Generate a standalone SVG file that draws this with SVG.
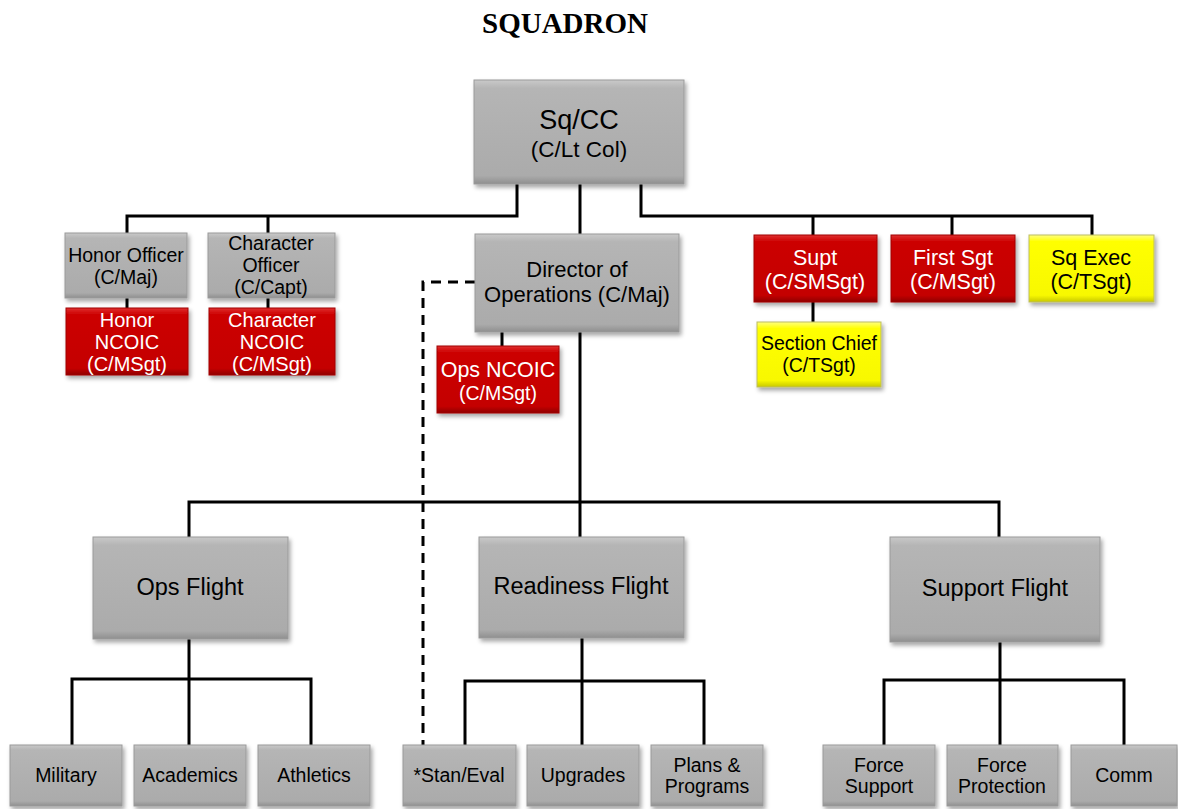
<svg xmlns="http://www.w3.org/2000/svg" width="1178" height="809" viewBox="0 0 1178 809">
<defs>
<linearGradient id="gGray" x1="0" y1="0" x2="0" y2="1">
<stop offset="0" stop-color="#c9c9c9"/><stop offset="0.08" stop-color="#b5b5b5"/><stop offset="0.92" stop-color="#ababab"/><stop offset="1" stop-color="#8f8f8f"/>
</linearGradient>
<linearGradient id="gRed" x1="0" y1="0" x2="0" y2="1">
<stop offset="0" stop-color="#e03030"/><stop offset="0.1" stop-color="#cc0000"/><stop offset="0.9" stop-color="#c40000"/><stop offset="1" stop-color="#8f0000"/>
</linearGradient>
<linearGradient id="gYel" x1="0" y1="0" x2="0" y2="1">
<stop offset="0" stop-color="#ffff80"/><stop offset="0.1" stop-color="#ffff00"/><stop offset="0.9" stop-color="#f8f800"/><stop offset="1" stop-color="#c8c800"/>
</linearGradient>
<filter id="sh" x="-10%" y="-10%" width="125%" height="130%">
<feDropShadow dx="2" dy="3" stdDeviation="2" flood-color="#000" flood-opacity="0.35"/>
</filter>
</defs>
<style>
.gray{fill:url(#gGray);stroke:#9a9a9a;stroke-width:1;filter:url(#sh)}
.red{fill:url(#gRed);stroke:#a00000;stroke-width:1;filter:url(#sh)}
.yel{fill:url(#gYel);stroke:#bdbd60;stroke-width:1;filter:url(#sh)}
text{font-family:"Liberation Sans",Arial,sans-serif;text-anchor:middle}
.tb{fill:#000}
.tw{fill:#fff}
.title{font-family:"Liberation Serif","Times New Roman",serif;font-weight:bold;font-size:29px;fill:#000}
.ln{stroke:#000;stroke-width:3;fill:none}
.dash{stroke:#000;stroke-width:3;fill:none;stroke-dasharray:10 7}
</style>
<rect width="1178" height="809" fill="#fff"/>
<text class="title" x="565" y="33">SQUADRON</text>

<g id="connectors">
<polyline class="ln" points="517,184 517,216 127,216 127,233"/>
<line class="ln" x1="268" y1="216" x2="268" y2="233"/>
<line class="ln" x1="127" y1="298" x2="127" y2="308"/>
<line class="ln" x1="268" y1="298" x2="268" y2="308"/>
<line class="ln" x1="580" y1="184" x2="580" y2="234"/>
<polyline class="ln" points="641,184 641,216 1092,216 1092,235"/>
<line class="ln" x1="813" y1="216" x2="813" y2="235"/>
<line class="ln" x1="952" y1="216" x2="952" y2="235"/>
<line class="ln" x1="813" y1="302" x2="813" y2="322"/>
<line class="ln" x1="502" y1="332" x2="502" y2="346"/>
<polyline class="dash" points="475,282 423,282 423,745"/>
<line class="ln" x1="580" y1="332" x2="580" y2="537"/>
<polyline class="ln" points="189,537 189,502 999,502 999,537"/>
<line class="ln" x1="189" y1="639" x2="189" y2="745"/>
<polyline class="ln" points="72,745 72,679 311,679 311,745"/>
<line class="ln" x1="582" y1="638" x2="582" y2="745"/>
<polyline class="ln" points="465,745 465,681 704,681 704,745"/>
<line class="ln" x1="1000" y1="642" x2="1000" y2="745"/>
<polyline class="ln" points="884,745 884,680 1124,680 1124,745"/>
</g>

<g id="sqcc"><rect class="gray" x="474" y="80" width="210" height="104"/>
<text class="tb" x="579" y="129" font-size="27">Sq/CC</text>
<text class="tb" x="579" y="157" font-size="22.5">(C/Lt Col)</text></g>

<g id="honor-officer"><rect class="gray" x="65" y="233" width="122" height="65"/>
<text class="tb" x="126" y="262" font-size="19.5">Honor Officer</text>
<text class="tb" x="126" y="284" font-size="19.5">(C/Maj)</text></g>

<g id="character-officer"><rect class="gray" x="208" y="233" width="127" height="65"/>
<text class="tb" x="271" y="250" font-size="19.5">Character</text>
<text class="tb" x="271" y="272" font-size="19.5">Officer</text>
<text class="tb" x="271" y="294" font-size="19.5">(C/Capt)</text></g>

<g id="honor-ncoic"><rect class="red" x="66" y="308" width="122" height="67"/>
<text class="tw" x="127" y="327" font-size="20">Honor</text>
<text class="tw" x="127" y="349" font-size="20">NCOIC</text>
<text class="tw" x="127" y="371" font-size="20">(C/MSgt)</text></g>

<g id="character-ncoic"><rect class="red" x="209" y="308" width="126" height="67"/>
<text class="tw" x="272" y="327" font-size="20">Character</text>
<text class="tw" x="272" y="349" font-size="20">NCOIC</text>
<text class="tw" x="272" y="371" font-size="20">(C/MSgt)</text></g>

<g id="director"><rect class="gray" x="475" y="234" width="204" height="98"/>
<text class="tb" x="577" y="277" font-size="22">Director of</text>
<text class="tb" x="577" y="302" font-size="22">Operations (C/Maj)</text></g>

<g id="ops-ncoic"><rect class="red" x="437" y="346" width="122" height="67"/>
<text class="tw" x="498" y="377" font-size="21.5">Ops NCOIC</text>
<text class="tw" x="498" y="400" font-size="19.5">(C/MSgt)</text></g>

<g id="supt"><rect class="red" x="754" y="235" width="123" height="67"/>
<text class="tw" x="815" y="265" font-size="21.5">Supt</text>
<text class="tw" x="815" y="289" font-size="21.5">(C/SMSgt)</text></g>

<g id="first-sgt"><rect class="red" x="891" y="235" width="124" height="67"/>
<text class="tw" x="953" y="265" font-size="21.5">First Sgt</text>
<text class="tw" x="953" y="289" font-size="21.5">(C/MSgt)</text></g>

<g id="sq-exec"><rect class="yel" x="1029" y="235" width="125" height="67"/>
<text class="tb" x="1091" y="265" font-size="21.5">Sq Exec</text>
<text class="tb" x="1091" y="289" font-size="21.5">(C/TSgt)</text></g>

<g id="section-chief"><rect class="yel" x="757" y="322" width="124" height="65"/>
<text class="tb" x="819" y="350" font-size="19.5">Section Chief</text>
<text class="tb" x="819" y="372" font-size="19.5">(C/TSgt)</text></g>

<g id="ops-flight"><rect class="gray" x="93" y="537" width="195" height="102"/>
<text class="tb" x="190" y="595" font-size="23.5">Ops Flight</text></g>

<g id="readiness-flight"><rect class="gray" x="479" y="537" width="205" height="101"/>
<text class="tb" x="581" y="594" font-size="23.5">Readiness Flight</text></g>

<g id="support-flight"><rect class="gray" x="890" y="537" width="210" height="105"/>
<text class="tb" x="995" y="596" font-size="23.5">Support Flight</text></g>

<g id="military"><rect class="gray" x="10" y="745" width="112" height="61"/>
<text class="tb" x="66" y="782" font-size="19.5">Military</text></g>
<g id="academics"><rect class="gray" x="134" y="745" width="112" height="61"/>
<text class="tb" x="190" y="782" font-size="19.5">Academics</text></g>
<g id="athletics"><rect class="gray" x="258" y="745" width="112" height="61"/>
<text class="tb" x="314" y="782" font-size="19.5">Athletics</text></g>

<g id="stan-eval"><rect class="gray" x="403" y="745" width="113" height="61"/>
<text class="tb" x="459" y="782" font-size="19.5">*Stan/Eval</text></g>
<g id="upgrades"><rect class="gray" x="527" y="745" width="112" height="61"/>
<text class="tb" x="583" y="782" font-size="19.5">Upgrades</text></g>
<g id="plans-programs"><rect class="gray" x="651" y="745" width="112" height="61"/>
<text class="tb" x="707" y="772" font-size="19.5">Plans &amp;</text>
<text class="tb" x="707" y="793" font-size="19.5">Programs</text></g>

<g id="force-support"><rect class="gray" x="823" y="745" width="112" height="61"/>
<text class="tb" x="879" y="772" font-size="19.5">Force</text>
<text class="tb" x="879" y="793" font-size="19.5">Support</text></g>
<g id="force-protection"><rect class="gray" x="947" y="745" width="111" height="61"/>
<text class="tb" x="1002" y="772" font-size="19.5">Force</text>
<text class="tb" x="1002" y="793" font-size="19.5">Protection</text></g>
<g id="comm"><rect class="gray" x="1071" y="745" width="106" height="61"/>
<text class="tb" x="1124" y="782" font-size="19.5">Comm</text></g>
</svg>
